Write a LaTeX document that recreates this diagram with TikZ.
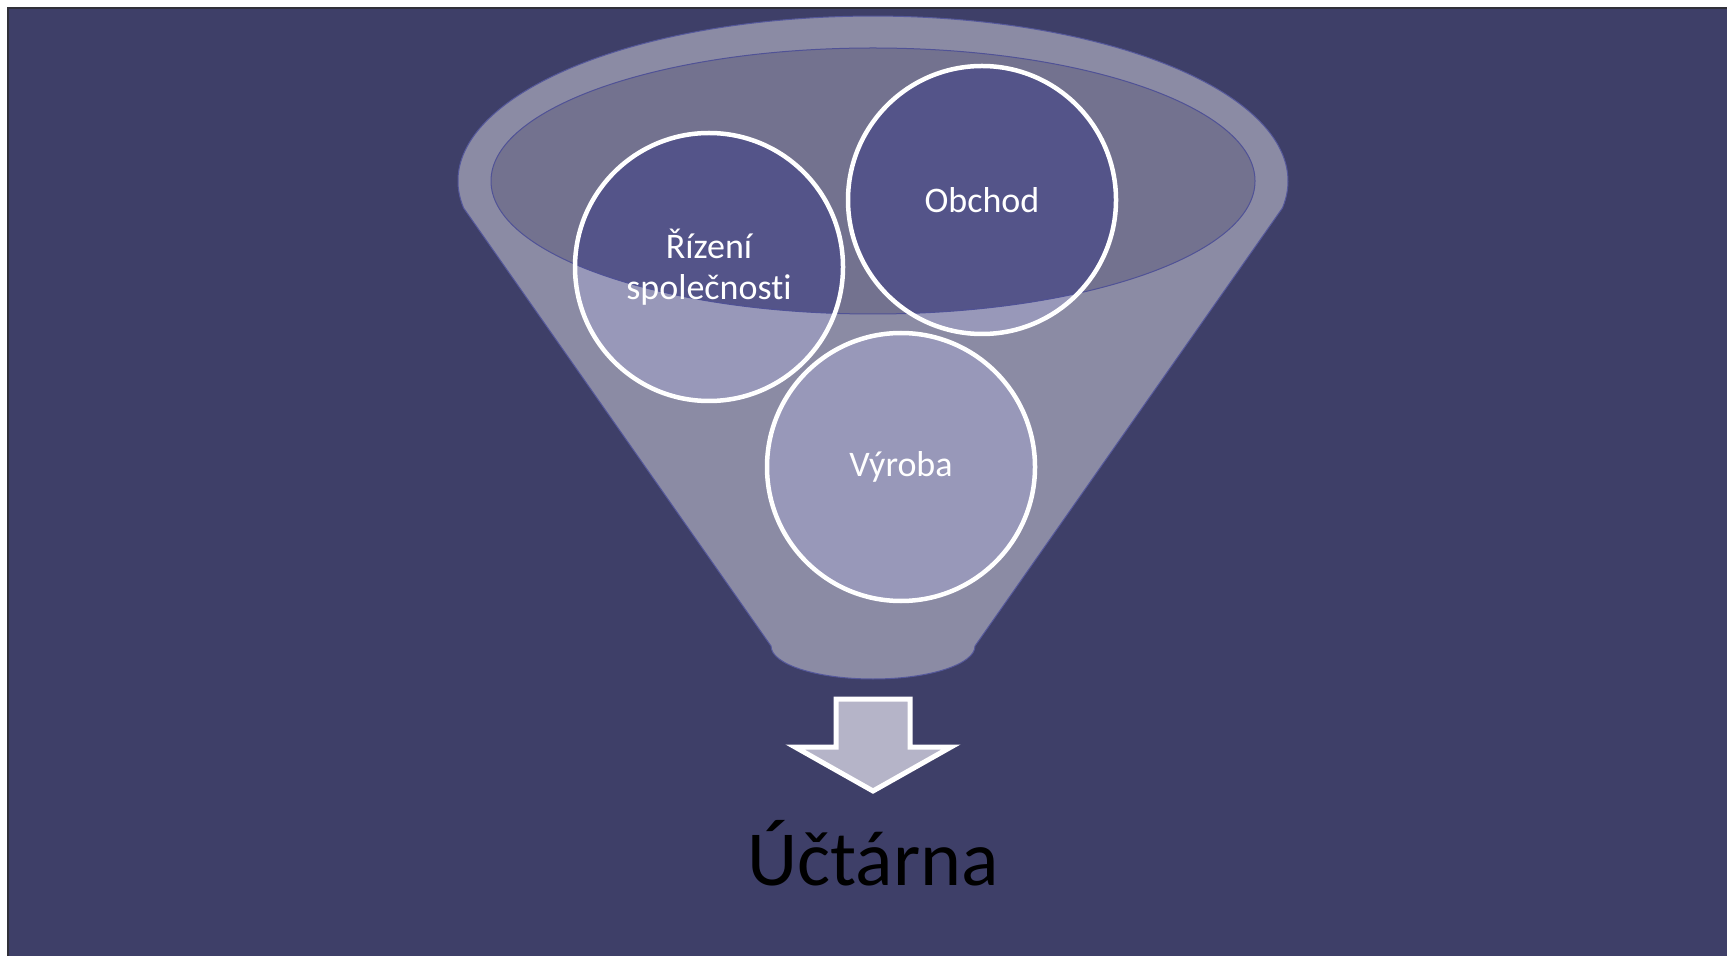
\documentclass[tikz,border=0pt]{standalone}
\usepackage{fontspec}
\setmainfont{Carlito}[Ligatures=NoCommon]
\definecolor{slide}{RGB}{62,63,104}
\definecolor{frameline}{RGB}{48,48,58}
\definecolor{funnelfill}{RGB}{139,139,164}
\definecolor{funnelline}{RGB}{85,88,155}
\definecolor{mouthfill}{RGB}{115,114,143}
\definecolor{mouthline}{RGB}{80,82,150}
\definecolor{areadark}{RGB}{84,84,137}
\definecolor{arealight}{RGB}{152,152,185}
\definecolor{arrowfill}{RGB}{181,180,200}
\newcommand{\radiusarea}{134}
\newcommand{\sizearea}{134pt}
\tikzset{
    common/.style={line width=0.5pt},
    funnel/.style={common, fill=funnelfill, draw=funnelline},
    mouth/.style={common, fill=mouthfill},
    area/.style={circle, inner sep=0pt, minimum size=\sizearea, draw=white, line width=2.25pt,
        text=white, align=center, font=\fontsize{18}{20.5}\selectfont},
    blockarrow/.style={fill=arrowfill, draw=white, line width=2.5pt, miter limit=10}
}
\begin{document}
\begin{tikzpicture}[x=0.5pt, y=-0.5pt]
    \useasboundingbox (0,0) rectangle (1727,956);
    \fill[white] (0,0) rectangle (1727,956);
    \filldraw[fill=slide, draw=frameline, line width=1.2pt] (8,8) rectangle (1740,970);

    % funnel body
    \path[funnel] (463.6,208)
        arc[start angle=170.6, end angle=369.4, x radius=415, y radius=165]
        -- (975,646)
        arc[start angle=0, end angle=180, x radius=102, y radius=33]
        -- cycle;
    \coordinate (mouth) at (873,181);
    \path[mouth] (mouth) ellipse[x radius=382, y radius=133];

    \coordinate (rizeni) at (709,267);
    \coordinate (obchod) at (982,200);
    \coordinate (vyroba) at (901,467);

    \foreach \c in {rizeni, obchod, vyroba}
        \fill[arealight] (\c) circle[radius=\radiusarea];
    \begin{scope}
        \clip (mouth) ellipse[x radius=382, y radius=133];
        \foreach \c in {rizeni, obchod}
            \fill[areadark] (\c) circle[radius=\radiusarea];
    \end{scope}
    \draw[common, mouthline] (mouth) ellipse[x radius=382, y radius=133];

    \node[area] (rizeni-area) at (rizeni) {Řízení\\společnosti};
    \node[area] (obchod-area) at (obchod) {Obchod};
    \node[area] (vyroba-area) at (vyroba) {Výroba};

    % arrow down to the result
    \path[blockarrow] (836,699) -- (910,699) -- (910,747) -- (951,747)
        -- (873,791) -- (795,747) -- (836,747) -- cycle;

    \node[anchor=base, font=\fontsize{39}{47}\selectfont] (uctarna) at (873,885) {Účtárna};
\end{tikzpicture}
\end{document}
